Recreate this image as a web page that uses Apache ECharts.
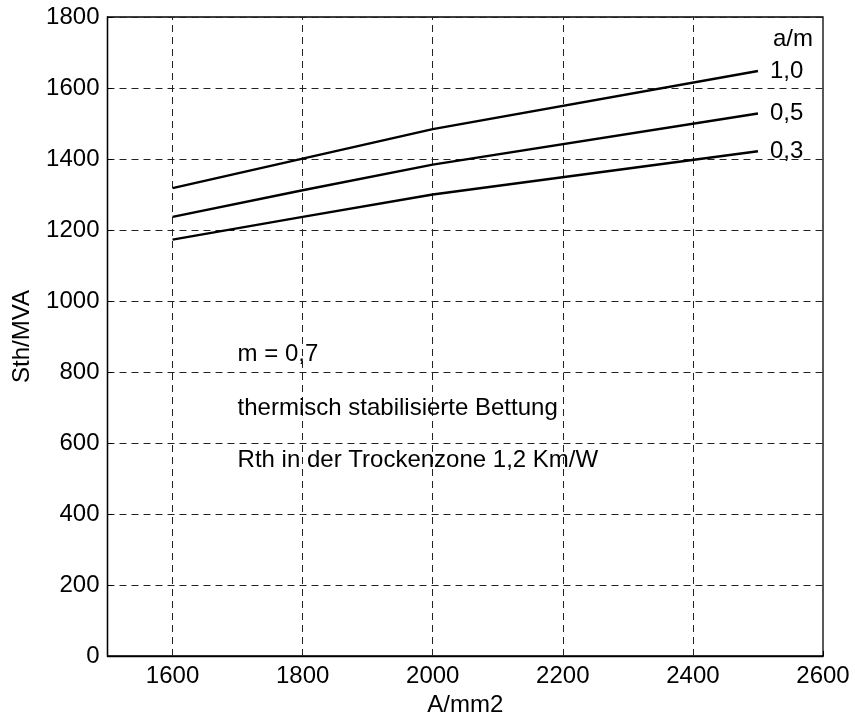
<!DOCTYPE html>
<html>
<head>
<meta charset="utf-8">
<script src="https://cdn.jsdelivr.net/npm/echarts@6/dist/echarts.min.js"></script>
<style>html,body{margin:0;padding:0;background:#fff}#c{width:855px;height:714px}</style>
</head>
<body>
<div id="c"></div>
<script>
const xValues = [1600, 1800, 2000, 2500];
const s10 = [1318, 1401, 1484, 1648];
const s05 = [1237, 1312, 1384, 1528];
const s03 = [1173, 1237, 1300, 1422];
const seriesNames = ['1,0', '0,5', '0,3'];
const xTicks = [1600, 1800, 2000, 2200, 2400, 2600];
const yTicks = [0, 200, 400, 600, 800, 1000, 1200, 1400, 1600, 1800];
const notes = [
  { x: 1700, y: 850, text: 'm = 0,7' },
  { x: 1700, y: 697, text: 'thermisch stabilisierte Bettung' },
  { x: 1700, y: 550, text: 'Rth in der Trockenzone 1,2 Km/W' }
];

const FONT = 'Liberation Sans, Arial, sans-serif';
const FS = 24;
const chart = echarts.init(document.getElementById('c'));

function lineSeries(name, vals) {
  return {
    name: name, type: 'line', data: xValues.map((x, i) => [x, vals[i]]),
    symbol: 'none', silent: true,
    lineStyle: { color: '#000', width: 2.4 },
    endLabel: { show: true, formatter: name, color: '#000', fontFamily: FONT, fontSize: FS, distance: 12 },
    z: 5
  };
}

chart.setOption({
  animation: false,
  backgroundColor: '#fff',
  title: {
    text: 'a/m', left: 768, top: 22,
    textStyle: { color: '#000', fontFamily: FONT, fontSize: FS, fontWeight: 'normal' }
  },
  grid: { left: 107.5, right: 32, top: 17, bottom: 58, outerBoundsMode: 'none', containLabel: false,
    show: true, borderColor: '#000', borderWidth: 1.3, backgroundColor: 'transparent' },
  xAxis: {
    type: 'value', min: 1500, max: 2600, interval: 100,
    name: 'A/mm2', nameLocation: 'middle', nameGap: 33,
    nameTextStyle: { color: '#000', fontFamily: FONT, fontSize: FS },
    axisLine: { show: true, lineStyle: { color: '#000', width: 1.3 } },
    axisTick: { show: true, inside: true, length: 5, customValues: xTicks, lineStyle: { color: '#000' } },
    axisLabel: { color: '#000', fontFamily: FONT, fontSize: FS, margin: 8, customValues: xTicks,
      formatter: v => (xTicks.indexOf(v) >= 0 ? String(v) : '') },
    splitLine: { show: false }
  },
  yAxis: {
    type: 'value', min: 0, max: 1800, interval: 200,
    name: 'Sth/MVA', nameLocation: 'middle', nameGap: 73,
    nameTextStyle: { color: '#000', fontFamily: FONT, fontSize: FS },
    axisLine: { show: true, lineStyle: { color: '#000', width: 1.3 } },
    axisTick: { show: true, inside: true, length: 5, lineStyle: { color: '#000' } },
    axisLabel: { color: '#000', fontFamily: FONT, fontSize: FS, margin: 8,
      formatter: v => (yTicks.indexOf(v) >= 0 ? String(v) : '') },
    splitLine: { show: true, lineStyle: { color: '#222', width: 1, type: [7, 5] } }
  },
  series: [
    lineSeries(seriesNames[0], s10),
    lineSeries(seriesNames[1], s05),
    lineSeries(seriesNames[2], s03),
    {
      type: 'line', data: [], silent: true,
      markLine: {
        silent: true, symbol: 'none', label: { show: false },
        lineStyle: { color: '#222', width: 1, type: [7, 5] },
        data: xTicks.slice(0, -1).map(v => ({ xAxis: v }))
      },
      z: 1
    },
    {
      type: 'scatter', symbolSize: 0, silent: true,
      itemStyle: { opacity: 1 },
      data: notes.map(n => ({ value: [n.x, n.y], label: { formatter: n.text } })),
      label: { show: true, position: 'right', distance: 0, color: '#000', opacity: 1, fontFamily: FONT, fontSize: FS },
      z: 6
    }
  ]
});
</script>
</body>
</html>
